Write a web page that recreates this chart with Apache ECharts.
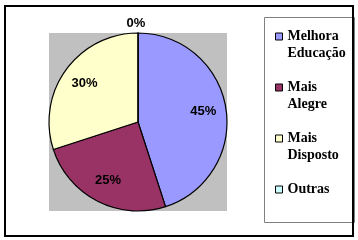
<!DOCTYPE html>
<html>
<head>
<meta charset="utf-8">
<style>
html,body{margin:0;padding:0;background:#fff;}
#chart{width:358px;height:240px;}
</style>
<script src="https://cdn.jsdelivr.net/npm/echarts@6/dist/echarts.min.js"></script>
</head>
<body>
<div id="chart"></div>
<script>
var categories = ['Melhora\nEducação', 'Mais\nAlegre', 'Mais\nDisposto', 'Outras'];
var values = [45, 25, 30, 0];
var colors = ['#9999ff', '#993366', '#ffffcc', '#ccffff'];

var chart = echarts.init(document.getElementById('chart'), null, {renderer: 'canvas'});

var mainData = categories.map(function (c, i) {
  return {
    name: c,
    value: values[i],
    itemStyle: {color: colors[i]},
    label: {show: values[i] === 0}
  };
});
var ghostData = categories.map(function (c, i) {
  return {
    name: c,
    value: values[i],
    label: {show: values[i] !== 0}
  };
});

var legendData = categories.map(function (c, i) {
  return {
    name: c,
    icon: 'rect',
    itemStyle: {color: colors[i], borderColor: '#000', borderWidth: 1}
  };
});

var option = {
  animation: false,
  backgroundColor: '#fff',
  graphic: [
    {type: 'rect', z: -10, shape: {x: 49, y: 33, width: 178, height: 178}, style: {fill: '#c0c0c0'}, silent: true},
    {type: 'rect', z: -10, shape: {x: 264.5, y: 17.5, width: 90, height: 205}, style: {fill: '#fff', stroke: '#808080', lineWidth: 1}, silent: true},
    {type: 'rect', z: 100, shape: {x: 5, y: 6, width: 348, height: 230}, style: {fill: 'none', stroke: '#000', lineWidth: 2}, silent: true}
  ],
  legend: {
    orient: 'vertical',
    left: 275,
    top: 11,
    padding: 0,
    itemGap: 0,
    itemWidth: 7,
    itemHeight: 7,
    selectedMode: false,
    data: legendData,
    formatter: function (name) {
      var lines = name.split('\n').map(function (l) { return '{t|' + l + '}'; });
      if (lines.length < 2) lines.push('{e| }');
      return '{e| }\n' + lines.join('\n');
    },
    textStyle: {
      fontFamily: 'Liberation Serif',
      fontWeight: 'bold',
      fontSize: 14,
      lineHeight: 17,
      color: '#000',
      rich: {
        t: {fontFamily: 'Liberation Serif', fontWeight: 'bold', fontSize: 14, lineHeight: 17, color: '#000'},
        e: {fontFamily: 'Liberation Serif', fontSize: 14, lineHeight: 17}
      }
    }
  },
  series: [
    {
      type: 'pie',
      center: [138, 122],
      radius: [0, 89],
      startAngle: 90,
      clockwise: true,
      avoidLabelOverlap: false,
      silent: true,
      emphasis: {disabled: true},
      itemStyle: {borderColor: '#000', borderWidth: 1.2},
      label: {
        position: 'outside',
        formatter: '{c}%',
        fontFamily: 'Liberation Sans',
        fontWeight: 'bold',
        fontSize: 13,
        color: '#000'
      },
      labelLine: {show: false, length: 0, length2: 0},
      labelLayout: function (p) {
        return {align: 'center', verticalAlign: 'bottom', dx: 3, dy: -3};
      },
      data: mainData
    },
    {
      type: 'pie',
      center: [138, 122],
      radius: [0, 126],
      startAngle: 90,
      clockwise: true,
      avoidLabelOverlap: false,
      silent: true,
      emphasis: {disabled: true},
      itemStyle: {color: 'rgba(0,0,0,0)', borderWidth: 0},
      label: {
        position: 'inside',
        formatter: '{c}%',
        fontFamily: 'Liberation Sans',
        fontWeight: 'bold',
        fontSize: 13,
        color: '#000'
      },
      labelLine: {show: false},
      data: ghostData
    }
  ]
};
chart.setOption(option);
</script>
</body>
</html>
